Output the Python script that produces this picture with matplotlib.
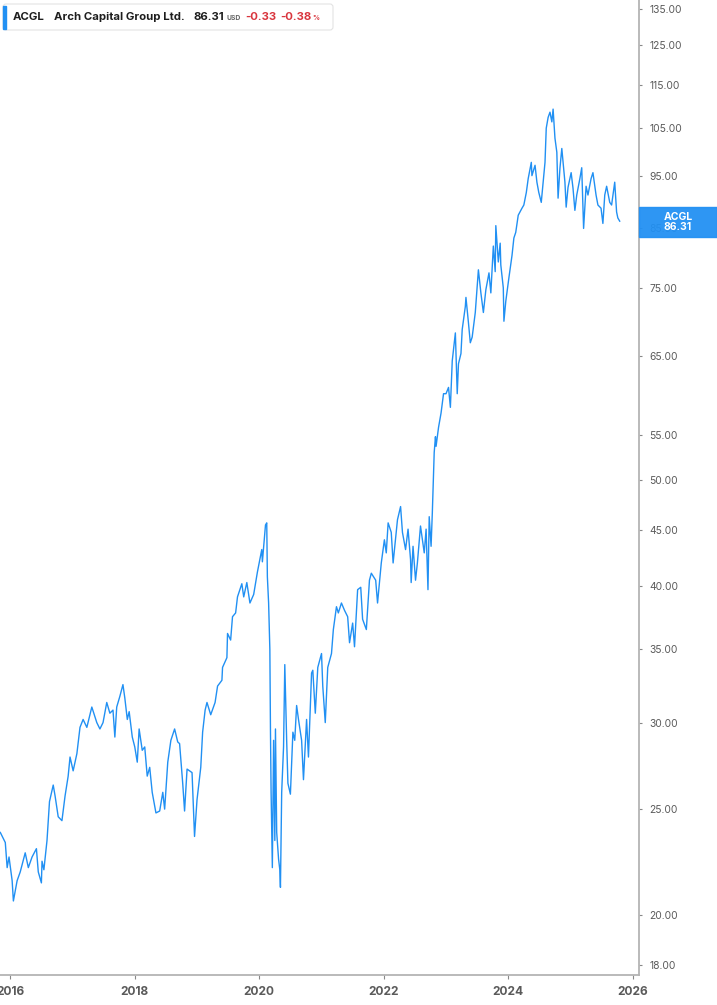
import matplotlib
matplotlib.use("Agg")
import matplotlib.pyplot as plt
from matplotlib.ticker import FixedLocator, FixedFormatter, NullLocator
from matplotlib.patches import Rectangle, FancyBboxPatch
from matplotlib.transforms import IdentityTransform

plt.rcParams['font.family'] = ['Inter', 'DejaVu Sans']

# ACGL closing prices (decimal years)
years = [
    2015.84, 2015.92, 2015.95, 2015.98, 2016.03, 2016.05, 2016.11, 2016.16, 2016.24, 2016.29,
    2016.35, 2016.42, 2016.45, 2016.50, 2016.51, 2016.54, 2016.59, 2016.63, 2016.69, 2016.72,
    2016.77, 2016.83, 2016.88, 2016.93, 2016.96, 2017.01, 2017.07, 2017.12, 2017.17, 2017.23,
    2017.31, 2017.39, 2017.44, 2017.49, 2017.55, 2017.60, 2017.65, 2017.68, 2017.71, 2017.76,
    2017.81, 2017.84, 2017.88, 2017.91, 2017.96, 2018.00, 2018.04, 2018.07, 2018.12, 2018.16,
    2018.20, 2018.24, 2018.28, 2018.34, 2018.40, 2018.45, 2018.48, 2018.53, 2018.58, 2018.64,
    2018.69,
    2018.72, 2018.77, 2018.80, 2018.84, 2018.92, 2018.96, 2019.00, 2019.06, 2019.09, 2019.13,
    2019.16, 2019.22, 2019.29, 2019.33, 2019.40, 2019.41, 2019.48, 2019.49, 2019.54, 2019.57,
    2019.62, 2019.65, 2019.72, 2019.75, 2019.80, 2019.85, 2019.91, 2019.97, 2020.04, 2020.05,
    2020.10, 2020.12, 2020.13, 2020.15, 2020.17, 2020.18, 2020.19, 2020.21, 2020.23, 2020.25,
    2020.26, 2020.28, 2020.31, 2020.33, 2020.34, 2020.36, 2020.39, 2020.41, 2020.44, 2020.46,
    2020.50, 2020.54, 2020.57, 2020.60, 2020.63, 2020.68, 2020.71, 2020.76, 2020.79, 2020.84,
    2020.86, 2020.90, 2020.94, 2021.00, 2021.02, 2021.06, 2021.10, 2021.16, 2021.19, 2021.24,
    2021.27,
    2021.32, 2021.37, 2021.42, 2021.45, 2021.50, 2021.53, 2021.58, 2021.63, 2021.66, 2021.72,
    2021.77, 2021.80, 2021.87, 2021.90, 2021.96, 2022.01, 2022.04, 2022.07, 2022.12, 2022.15,
    2022.19, 2022.22, 2022.27, 2022.30, 2022.35, 2022.39, 2022.43, 2022.44, 2022.47, 2022.51,
    2022.54, 2022.59, 2022.65, 2022.68, 2022.71, 2022.73, 2022.76, 2022.78, 2022.81, 2022.83,
    2022.84, 2022.88, 2022.92, 2022.96, 2023.00, 2023.04, 2023.07, 2023.10, 2023.15, 2023.18,
    2023.20, 2023.24, 2023.26, 2023.31, 2023.32, 2023.36, 2023.39, 2023.42, 2023.47, 2023.52,
    2023.56, 2023.60, 2023.64, 2023.69,
    2023.72, 2023.76, 2023.79, 2023.80, 2023.84, 2023.87, 2023.88, 2023.92, 2023.93, 2023.96,
    2024.01, 2024.06, 2024.09, 2024.12, 2024.16, 2024.22, 2024.25, 2024.29, 2024.32, 2024.37,
    2024.38, 2024.43, 2024.46, 2024.49, 2024.53, 2024.56, 2024.59, 2024.61, 2024.64, 2024.67,
    2024.70, 2024.72, 2024.75, 2024.78, 2024.80, 2024.83, 2024.86, 2024.91, 2024.93, 2024.96,
    2025.01, 2025.04, 2025.07, 2025.10, 2025.15, 2025.18, 2025.21, 2025.25, 2025.28, 2025.33,
    2025.36, 2025.41, 2025.44, 2025.49, 2025.52, 2025.55, 2025.58, 2025.63, 2025.66, 2025.71,
    2025.74, 2025.76, 2025.79,
]
prices = [
    23.8, 23.3, 22.1, 22.6, 21.5, 20.6, 21.5, 21.9, 22.8, 22.1,
    22.6, 23.0, 21.9, 21.4, 22.4, 22.0, 23.4, 25.4, 26.3, 25.7,
    24.6, 24.4, 25.7, 26.8, 27.9, 27.1, 28.1, 29.7, 30.2, 29.7,
    31.0, 30.0, 29.6, 30.0, 31.3, 30.6, 30.8, 29.1, 31.0, 31.7,
    32.5, 31.6, 30.2, 30.7, 29.1, 28.5, 27.6, 29.6, 28.3, 28.5,
    26.8, 27.3, 25.9, 24.8, 24.9, 25.9, 25.0, 27.6, 28.9, 29.6,
    28.8,
    28.7, 26.4, 24.9, 27.2, 27.0, 23.6, 25.5, 27.3, 29.4, 30.8,
    31.3, 30.5, 31.3, 32.4, 32.8, 33.7, 34.4, 36.2, 35.7, 37.5,
    37.8, 39.1, 40.2, 39.1, 40.3, 38.6, 39.3, 41.2, 43.2, 42.1,
    45.5, 45.7, 40.8, 38.6, 35.0, 29.4, 25.9, 22.1, 28.9, 23.4,
    29.6, 23.8, 22.5, 22.0, 21.2, 25.9, 28.5, 33.9, 28.9, 26.4,
    25.8, 29.4, 28.9, 31.1, 30.2, 28.9, 26.6, 30.2, 27.9, 33.3,
    33.5, 30.6, 33.7, 34.7, 32.4, 30.0, 33.7, 34.7, 36.5, 38.3,
    37.8,
    38.6, 38.0, 37.5, 35.5, 37.0, 35.2, 39.7, 39.9, 37.3, 36.5,
    40.5, 41.1, 40.5, 38.6, 42.0, 44.1, 42.9, 45.7, 44.8, 42.0,
    44.3, 46.0, 47.3, 44.8, 43.2, 45.1, 42.3, 40.3, 43.5, 40.5,
    42.0, 45.4, 42.9, 45.1, 39.7, 46.3, 43.5, 46.7, 53.0, 54.8,
    53.7, 55.9, 57.6, 60.0, 60.0, 60.8, 58.3, 64.3, 68.2, 60.0,
    63.9, 65.3, 68.7, 72.1, 73.5, 69.7, 66.8, 67.6, 71.2, 77.9,
    74.2, 71.2, 74.7, 77.4,
    74.2, 81.9, 77.6, 85.5, 79.2, 82.4, 78.7, 75.0, 69.9, 72.9,
    76.6, 80.3, 83.3, 84.3, 87.4, 88.7, 89.3, 91.7, 94.4, 97.7,
    95.0, 97.1, 93.7, 91.7, 89.8, 93.7, 97.7, 105.0, 107.4, 108.6,
    106.4, 109.3, 102.8, 99.8, 90.6, 96.5, 100.6, 93.7, 88.9, 92.7,
    95.6, 92.5, 88.3, 91.2, 94.4, 96.6, 85.0, 92.9, 91.2, 94.4,
    95.6, 91.2, 89.3, 88.7, 85.9, 91.2, 92.9, 89.8, 89.3, 93.7,
    88.0, 86.9, 86.31,
]

ticker_sym = "ACGL"
company = "Arch Capital Group Ltd."
change = -0.33
change_pct = -0.38

y_ticks = [18, 20, 25, 30, 35, 40, 45, 50, 55, 65, 75, 85, 95, 105, 115, 125, 135]
x_ticks = [2016, 2018, 2020, 2022, 2024, 2026]

BLUE = '#2190f3'
AXIS = '#b4b4b4'
LABEL = '#5a5a5a'
RED = '#d9363e'
DARK = '#1e1e1e'

W, H = 717, 1005
fig = plt.figure(figsize=(W / 100, H / 100), dpi=100)
ax = fig.add_axes([0, 1 - 975 / H, 639 / W, 975 / H])

ax.plot(years, prices, color=BLUE, lw=1.0)

ax.set_yscale('log')
ax.set_ylim(17.624, 137.56)
ax.set_xlim(2015.835, 2026.10)

ax.yaxis.set_major_locator(FixedLocator(y_ticks))
ax.yaxis.set_major_formatter(FixedFormatter([f"{v:.2f}" for v in y_ticks]))
ax.yaxis.set_minor_locator(NullLocator())
ax.yaxis.tick_right()
ax.xaxis.set_major_locator(FixedLocator(x_ticks))
ax.xaxis.set_major_formatter(FixedFormatter([str(v) for v in x_ticks]))

for s in ['top', 'left']:
    ax.spines[s].set_visible(False)
for s in ['right', 'bottom']:
    ax.spines[s].set_color(AXIS)
    ax.spines[s].set_linewidth(1.3)

ax.tick_params(axis='y', which='major', length=2.5, width=0.8, color='#888888',
               pad=5, labelsize=7.4, labelcolor=LABEL)
ax.tick_params(axis='x', which='major', length=3, width=0.8, color='#888888',
               pad=5, labelsize=8.6, labelcolor=LABEL)
for lbl in ax.get_xticklabels():
    lbl.set_fontweight('bold')

# header box
ident = IdentityTransform()
hdr = FancyBboxPatch((3, H - 30), 330, 26, boxstyle="round,pad=0,rounding_size=3",
                     transform=ident, facecolor='white', edgecolor='#e3e3e3', lw=0.8)
fig.patches.append(hdr)
fig.patches.append(Rectangle((3, H - 29), 3, 23, transform=ident, color=BLUE))

# header texts, placed one after another: (text, size, colour, gap before, y shift)
ty = H - 17
fs = 8.2
pieces = [
    (ticker_sym, fs, DARK, 0, 0),
    (company, fs, DARK, 9, 0),
    (f"{prices[-1]:.2f}", fs, DARK, 9, 0),
    ("USD", 4.8, '#666666', 2, -1),
    (f"{change:.2f}", fs, RED, 5, 0),
    (f"{change_pct:.2f}", fs, RED, 4, 0),
    ("%", 5, RED, 0.5, -1),
]
renderer = fig.canvas.get_renderer()
cur = 13
for txt, size, col, gap, dy in pieces:
    cur += gap
    t = fig.text(cur, ty + dy, txt, transform=ident, fontsize=size, fontweight='bold',
                 color=col, va='center')
    cur = t.get_window_extent(renderer).x1

# last price tag on the right axis
fig.patches.append(Rectangle((639, H - 237), 78, 30, transform=ident,
                             color=BLUE, alpha=0.94))
fig.text(678, H - 222, f"{ticker_sym}\n{prices[-1]:.2f}", transform=ident,
         fontsize=7.5, fontweight='bold', color='white', ha='center', va='center',
         linespacing=1.05)

fig.savefig("out.png", dpi=100)
